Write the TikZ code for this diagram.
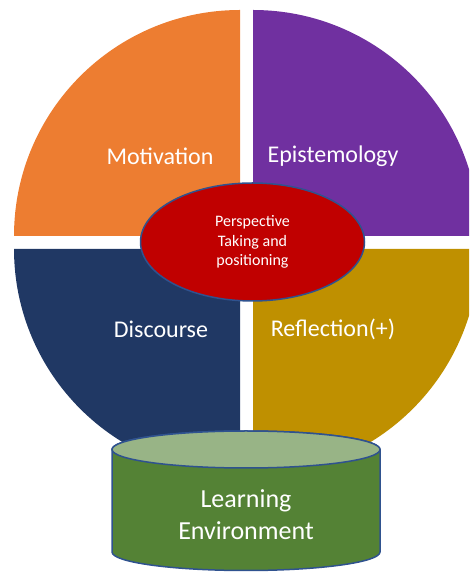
\documentclass[tikz,border=0pt]{standalone}
\usepackage{fontspec}
\setmainfont{Carlito}
\usetikzlibrary{shapes.geometric}
\definecolor{qorange}{HTML}{ED7D31}
\definecolor{qpurple}{HTML}{7030A0}
\definecolor{qnavy}{HTML}{203864}
\definecolor{qgold}{HTML}{BF9000}
\definecolor{qred}{HTML}{C00000}
\definecolor{qedge}{HTML}{2F528F}
\definecolor{qgreen}{HTML}{548235}
\definecolor{qgreentop}{HTML}{98B486}
\tikzset{
  qlabel/.style={text=white, font=\fontsize{24}{29}\selectfont, inner sep=0pt},
  centre/.style={ellipse, fill=qred, draw=qedge, line width=1.5pt, minimum width=224pt, minimum height=118pt, inner sep=0pt, text=white, align=center, font=\fontsize{16}{19.5}\selectfont},
  cyltext/.style={text=white, align=center, font=\fontsize{26}{32}\selectfont, inner sep=0pt},
  cylline/.style={draw=qedge, line width=1.5pt}
}
\begin{document}
\begin{tikzpicture}[x=1pt,y=1pt]
\useasboundingbox (0,0) rectangle (469,572);
\begin{scope}
\clip (0,0) rectangle (469,572);
\fill[qorange] (240,336) -- (14,336) arc[start angle=180, end angle=90, radius=226] -- cycle;
\fill[qpurple] (253,336) -- (253,562) arc[start angle=90, end angle=0, radius=226] -- cycle;
\fill[qnavy] (240,323) -- (14,323) arc[start angle=180, end angle=270, radius=226] -- cycle;
\fill[qgold] (253,323) -- (479,323) arc[start angle=0, end angle=-90, radius=226] -- cycle;
\end{scope}
\node[qlabel] (mot) at (160,416) {Motivation};
\node[qlabel] (epi) at (333,416) {Epistemology};
\node[qlabel] (dis) at (161,243) {Discourse};
\node[qlabel] (ref) at (333,243) {Reflection(+)};
\node[centre] (pt) at (252.5,330) {Perspective\\Taking and\\positioning};
% cylinder
\filldraw[cylline, fill=qgreen] (112,122.5) -- (112,20) arc[start angle=180, end angle=360, x radius=134, y radius=18.5] -- (380,122.5) arc[start angle=0, end angle=180, x radius=134, y radius=18.5] -- cycle;
\filldraw[cylline, fill=qgreentop] (246,122.5) ellipse[x radius=134, y radius=18.5];
\node[cyltext] (le) at (246,57) {Learning\\Environment};
\end{tikzpicture}
\end{document}
